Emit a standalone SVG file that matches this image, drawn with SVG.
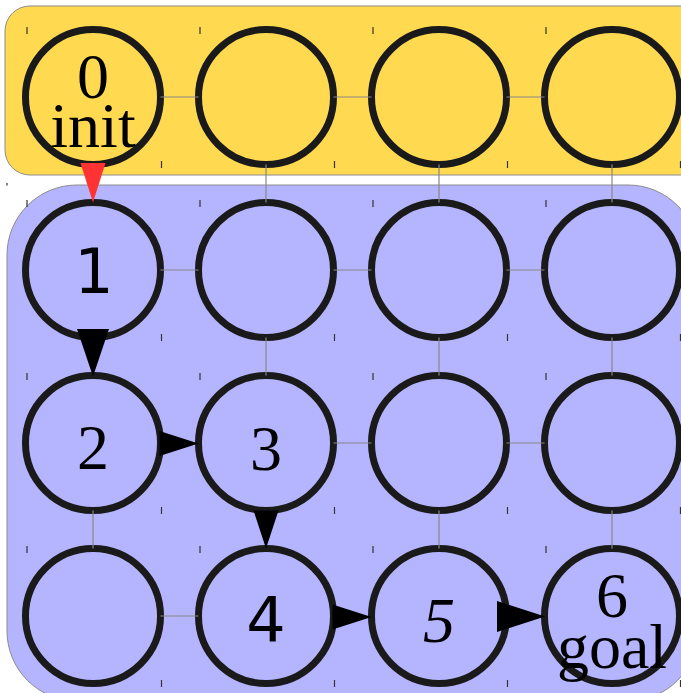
<svg xmlns="http://www.w3.org/2000/svg" width="681" height="693" viewBox="0 0 681 693">
<style>
.clu{stroke:#8c8c8c;stroke-width:1}
.node{fill:none;stroke:#1a1a1a;stroke-width:7}
.edge{stroke:#888;stroke-width:1.2;fill:none}
.arr{fill:#000}
.red{fill:#ff3333}
.tick{stroke:#333;stroke-width:1.2}
.t{font-family:"Liberation Serif","Times New Roman",serif;font-size:64px;text-anchor:middle;fill:#000}
.s{font-family:"DejaVu Sans","Liberation Sans",sans-serif;font-size:62px;text-anchor:middle;fill:#000}
.i{font-style:italic}
</style>
<g id="cluster-top"><rect class="clu" x="5" y="6" width="700" height="169" rx="25" fill="#ffd94f"/></g>
<g id="cluster-bottom"><rect class="clu" x="7" y="185" width="691" height="516" rx="70" fill="#b5b5ff"/><line class="tick" x1="7" y1="183" x2="7" y2="185.5"/></g>

<g id="n00"><circle class="node" cx="93" cy="97" r="67.5"/><text class="t" x="93" y="98">0</text><text class="t" x="93" y="147">init</text></g>
<g id="n01"><circle class="node" cx="266" cy="97" r="67.5"/></g>
<g id="n02"><circle class="node" cx="439" cy="97" r="67.5"/></g>
<g id="n03"><circle class="node" cx="612" cy="97" r="67.5"/></g>
<g id="n10"><circle class="node" cx="93" cy="270" r="67.5"/><text class="s" x="94" y="293">1</text></g>
<g id="n11"><circle class="node" cx="266" cy="270" r="67.5"/></g>
<g id="n12"><circle class="node" cx="439" cy="270" r="67.5"/></g>
<g id="n13"><circle class="node" cx="612" cy="270" r="67.5"/></g>
<g id="n20"><circle class="node" cx="93" cy="443" r="67.5"/><text class="t" x="93" y="469">2</text></g>
<g id="n21"><circle class="node" cx="266" cy="443" r="67.5"/><text class="t" x="266" y="470">3</text></g>
<g id="n22"><circle class="node" cx="439" cy="443" r="67.5"/></g>
<g id="n23"><circle class="node" cx="612" cy="443" r="67.5"/></g>
<g id="n30"><circle class="node" cx="93" cy="616" r="67.5"/></g>
<g id="n31"><circle class="node" cx="266" cy="616" r="67.5"/><text class="s" x="266" y="642">4</text></g>
<g id="n32"><circle class="node" cx="439" cy="616" r="67.5"/><text class="t i" x="439" y="642">5</text></g>
<g id="n33"><circle class="node" cx="612" cy="616" r="67.5"/><text class="t" x="612" y="617">6</text><text class="t" x="612" y="668">goal</text></g>

<g id="ticks">
<path class="tick" d="M27 27v7M200 27v7M373 27v7M546 27v7M161.5 161v7M334.5 161v7M507.5 161v7M680.5 161v7
M27 200v7M200 200v7M373 200v7M546 200v7M161.5 334v7M334.5 334v7M507.5 334v7M680.5 334v7
M27 373v7M200 373v7M373 373v7M546 373v7M161.5 507v7M334.5 507v7M507.5 507v7M680.5 507v7
M27 546v7M200 546v7M373 546v7M546 546v7M161.5 680v7M334.5 680v7M507.5 680v7M680.5 680v7"/>
</g>

<g id="connectors">
<path class="edge" d="M160.5 97H198.5M333.5 97H371.5M506.5 97H544.5
M266 164.5V202.5M439 164.5V202.5M612 164.5V202.5
M160.5 270H198.5M333.5 270H371.5M506.5 270H544.5
M266 337.5V375.5M439 337.5V375.5M612 337.5V375.5
M333.5 443H371.5M506.5 443H544.5
M93 510.5V548.5M439 510.5V548.5M612 510.5V548.5
M160.5 616H198.5"/>
<polygon class="red" points="80.5,163 105.5,163 93,202.5"/>
<polygon class="arr" points="77,329 109,329 93,376.5"/>
<polygon class="arr" points="159.5,431 159.5,456 198.5,443.5"/>
<polygon class="arr" points="253.5,510.5 278.5,510.5 266,548.5"/>
<polygon class="arr" points="332.5,604.5 332.5,629.5 371.5,617"/>
<polygon class="arr" points="497,601 497,632 545,616.5"/>
</g>
</svg>
